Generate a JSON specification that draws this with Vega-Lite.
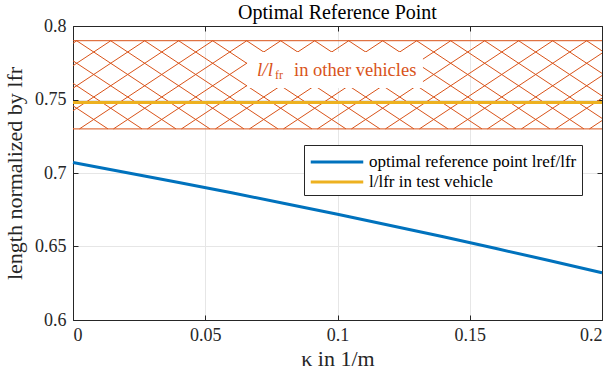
{
  "$schema": "https://vega.github.io/schema/vega-lite/v6.json",
  "width": 529,
  "height": 294,
  "autosize": {"type": "none"},
  "padding": {"left": 73, "top": 26, "right": 11, "bottom": 57},
  "background": "white",
  "title": {"text": "Optimal Reference Point", "font": "Liberation Serif", "fontSize": 20, "fontWeight": "normal", "color": "#000000", "baseline": "alphabetic", "offset": -22},
  "config": {
    "font": "Liberation Serif",
    "view": {"stroke": "#262626", "strokeWidth": 1},
    "axis": {
      "domainColor": "#262626", "domainWidth": 1,
      "tickColor": "#262626", "tickSize": -5, "tickWidth": 1,
      "gridColor": "#e6e6e6", "gridWidth": 1,
      "labelFont": "Liberation Serif", "labelFontSize": 18, "labelColor": "#262626",
      "titleFont": "Liberation Serif", "titleFontSize": 22, "titleFontWeight": "normal", "titleColor": "#262626"
    },
    "legend": {"labelFont": "Liberation Serif"}
  },
  "datasets": {
    "curves": [
      {"kappa": 0, "value": 0.7071, "series": "optimal reference point lref/lfr"},
      {"kappa": 0.02, "value": 0.7004, "series": "optimal reference point lref/lfr"},
      {"kappa": 0.04, "value": 0.6936, "series": "optimal reference point lref/lfr"},
      {"kappa": 0.06, "value": 0.6865, "series": "optimal reference point lref/lfr"},
      {"kappa": 0.08, "value": 0.6793, "series": "optimal reference point lref/lfr"},
      {"kappa": 0.1, "value": 0.6719, "series": "optimal reference point lref/lfr"},
      {"kappa": 0.12, "value": 0.6643, "series": "optimal reference point lref/lfr"},
      {"kappa": 0.14, "value": 0.6566, "series": "optimal reference point lref/lfr"},
      {"kappa": 0.16, "value": 0.6486, "series": "optimal reference point lref/lfr"},
      {"kappa": 0.18, "value": 0.6405, "series": "optimal reference point lref/lfr"},
      {"kappa": 0.2, "value": 0.6322, "series": "optimal reference point lref/lfr"},
      {"kappa": 0, "value": 0.748, "series": "l/lfr in test vehicle"},
      {"kappa": 0.2, "value": 0.748, "series": "l/lfr in test vehicle"}
    ],
    "hatch": [
      {"x1": -0.05006, "y1": 0.79, "x2": 0.00036, "y2": 0.73},
      {"x1": -0.03720, "y1": 0.79, "x2": 0.01322, "y2": 0.73},
      {"x1": -0.02435, "y1": 0.79, "x2": 0.02607, "y2": 0.73},
      {"x1": -0.01149, "y1": 0.79, "x2": 0.03893, "y2": 0.73},
      {"x1": 0.00136, "y1": 0.79, "x2": 0.05178, "y2": 0.73},
      {"x1": 0.01421, "y1": 0.79, "x2": 0.06463, "y2": 0.73},
      {"x1": 0.02707, "y1": 0.79, "x2": 0.07749, "y2": 0.73},
      {"x1": 0.03992, "y1": 0.79, "x2": 0.09034, "y2": 0.73},
      {"x1": 0.05278, "y1": 0.79, "x2": 0.10320, "y2": 0.73},
      {"x1": 0.06563, "y1": 0.79, "x2": 0.11605, "y2": 0.73},
      {"x1": 0.07848, "y1": 0.79, "x2": 0.12890, "y2": 0.73},
      {"x1": 0.09134, "y1": 0.79, "x2": 0.14176, "y2": 0.73},
      {"x1": 0.10419, "y1": 0.79, "x2": 0.15461, "y2": 0.73},
      {"x1": 0.11705, "y1": 0.79, "x2": 0.16747, "y2": 0.73},
      {"x1": 0.12990, "y1": 0.79, "x2": 0.18032, "y2": 0.73},
      {"x1": 0.14275, "y1": 0.79, "x2": 0.19317, "y2": 0.73},
      {"x1": 0.15561, "y1": 0.79, "x2": 0.20603, "y2": 0.73},
      {"x1": 0.16846, "y1": 0.79, "x2": 0.21888, "y2": 0.73},
      {"x1": 0.18132, "y1": 0.79, "x2": 0.23174, "y2": 0.73},
      {"x1": 0.19417, "y1": 0.79, "x2": 0.24459, "y2": 0.73},
      {"x1": 0.00145, "y1": 0.79, "x2": -0.04897, "y2": 0.73},
      {"x1": 0.01430, "y1": 0.79, "x2": -0.03612, "y2": 0.73},
      {"x1": 0.02715, "y1": 0.79, "x2": -0.02327, "y2": 0.73},
      {"x1": 0.04001, "y1": 0.79, "x2": -0.01041, "y2": 0.73},
      {"x1": 0.05286, "y1": 0.79, "x2": 0.00244, "y2": 0.73},
      {"x1": 0.06572, "y1": 0.79, "x2": 0.01530, "y2": 0.73},
      {"x1": 0.07857, "y1": 0.79, "x2": 0.02815, "y2": 0.73},
      {"x1": 0.09142, "y1": 0.79, "x2": 0.04100, "y2": 0.73},
      {"x1": 0.10428, "y1": 0.79, "x2": 0.05386, "y2": 0.73},
      {"x1": 0.11713, "y1": 0.79, "x2": 0.06671, "y2": 0.73},
      {"x1": 0.12999, "y1": 0.79, "x2": 0.07957, "y2": 0.73},
      {"x1": 0.14284, "y1": 0.79, "x2": 0.09242, "y2": 0.73},
      {"x1": 0.15569, "y1": 0.79, "x2": 0.10527, "y2": 0.73},
      {"x1": 0.16855, "y1": 0.79, "x2": 0.11813, "y2": 0.73},
      {"x1": 0.18140, "y1": 0.79, "x2": 0.13098, "y2": 0.73},
      {"x1": 0.19426, "y1": 0.79, "x2": 0.14384, "y2": 0.73},
      {"x1": 0.20711, "y1": 0.79, "x2": 0.15669, "y2": 0.73},
      {"x1": 0.21996, "y1": 0.79, "x2": 0.16954, "y2": 0.73},
      {"x1": 0.23282, "y1": 0.79, "x2": 0.18240, "y2": 0.73},
      {"x1": 0.24567, "y1": 0.79, "x2": 0.19525, "y2": 0.73}
    ],
    "band": [{"y": 0.73}, {"y": 0.79}],
    "label": [
      {"x": 0.0696, "y": 0.7701, "bx1": 0.0658, "bx2": 0.1323, "by1": 0.7578, "by2": 0.7823, "t1": "l/l", "t2": "fr", "t3": "in other vehicles"}
    ]
  },
  "resolve": {"axis": {"x": "independent", "y": "independent"}},
  "layer": [
    {
      "data": {"name": "hatch"},
      "mark": {"type": "rule", "color": "#D95319", "strokeWidth": 1, "clip": true},
      "encoding": {
        "x": {"field": "x1", "type": "quantitative", "scale": {"domain": [0, 0.2], "nice": false, "zero": false},
              "axis": {"values": [0, 0.05, 0.1, 0.15, 0.2], "format": "~g", "title": "κ in 1/m", "grid": true, "labelPadding": 11, "titlePadding": 4, "labelFont": "Liberation Serif", "titleFont": "Liberation Serif"}},
        "y": {"field": "y1", "type": "quantitative", "scale": {"domain": [0.6, 0.8], "nice": false, "zero": false},
              "axis": {"values": [0.6, 0.65, 0.7, 0.75, 0.8], "format": "~g", "title": "length normalized by lfr", "grid": true, "labelPadding": 12, "titlePadding": 8, "labelFont": "Liberation Serif", "titleFont": "Liberation Serif"}},
        "x2": {"field": "x2"},
        "y2": {"field": "y2"}
      }
    },
    {
      "data": {"name": "band"},
      "mark": {"type": "rule", "color": "#D95319", "strokeWidth": 1},
      "encoding": {
        "y": {"field": "y", "type": "quantitative", "scale": {"domain": [0.6, 0.8], "nice": false, "zero": false}, "axis": null}
      }
    },
    {
      "data": {"name": "label"},
      "mark": {"type": "rect", "color": "white"},
      "encoding": {
        "x": {"field": "bx1", "type": "quantitative", "scale": {"domain": [0, 0.2], "nice": false, "zero": false}, "axis": null},
        "x2": {"field": "bx2"},
        "y": {"field": "by1", "type": "quantitative", "scale": {"domain": [0.6, 0.8], "nice": false, "zero": false}, "axis": null},
        "y2": {"field": "by2"}
      }
    },
    {
      "data": {"name": "label"},
      "mark": {"type": "text", "align": "left", "baseline": "alphabetic", "dy": 6, "font": "Liberation Serif", "fontSize": 19, "fontStyle": "italic", "color": "#D95319"},
      "encoding": {
        "x": {"field": "x", "type": "quantitative", "scale": {"domain": [0, 0.2], "nice": false, "zero": false}, "axis": null},
        "y": {"field": "y", "type": "quantitative", "scale": {"domain": [0.6, 0.8], "nice": false, "zero": false}, "axis": null},
        "text": {"field": "t1"}
      }
    },
    {
      "data": {"name": "label"},
      "mark": {"type": "text", "align": "left", "baseline": "alphabetic", "font": "Liberation Serif", "fontSize": 12, "dx": 18, "dy": 9, "color": "#D95319"},
      "encoding": {
        "x": {"field": "x", "type": "quantitative", "scale": {"domain": [0, 0.2], "nice": false, "zero": false}, "axis": null},
        "y": {"field": "y", "type": "quantitative", "scale": {"domain": [0.6, 0.8], "nice": false, "zero": false}, "axis": null},
        "text": {"field": "t2"}
      }
    },
    {
      "data": {"name": "label"},
      "mark": {"type": "text", "align": "left", "baseline": "alphabetic", "font": "Liberation Serif", "fontSize": 18.5, "dx": 37, "dy": 6, "color": "#D95319"},
      "encoding": {
        "x": {"field": "x", "type": "quantitative", "scale": {"domain": [0, 0.2], "nice": false, "zero": false}, "axis": null},
        "y": {"field": "y", "type": "quantitative", "scale": {"domain": [0.6, 0.8], "nice": false, "zero": false}, "axis": null},
        "text": {"field": "t3"}
      }
    },
    {
      "data": {"name": "curves"},
      "mark": {"type": "line", "strokeWidth": 3},
      "encoding": {
        "x": {"field": "kappa", "type": "quantitative", "scale": {"domain": [0, 0.2], "nice": false, "zero": false},
              "axis": {"orient": "top", "values": [0, 0.05, 0.1, 0.15, 0.2], "labels": false, "grid": false, "title": null}},
        "y": {"field": "value", "type": "quantitative", "scale": {"domain": [0.6, 0.8], "nice": false, "zero": false},
              "axis": {"orient": "right", "values": [0.6, 0.65, 0.7, 0.75, 0.8], "labels": false, "grid": false, "title": null}},
        "color": {
          "field": "series", "type": "nominal",
          "scale": {"domain": ["optimal reference point lref/lfr", "l/lfr in test vehicle"], "range": ["#0072BD", "#EDB120"]},
          "legend": {
            "title": null, "orient": "none", "legendX": 231, "legendY": 119,
            "fillColor": "white", "strokeColor": "#262626", "padding": 5,
            "symbolType": "M-2.5,0H2.5", "symbolSize": 441, "symbolStrokeWidth": 3, "symbolOffset": 16,
            "labelFont": "Liberation Serif", "labelFontSize": 17, "labelColor": "#000000", "labelOffset": 20, "labelLimit": 400,
            "rowPadding": 0
          }
        }
      }
    }
  ]
}
